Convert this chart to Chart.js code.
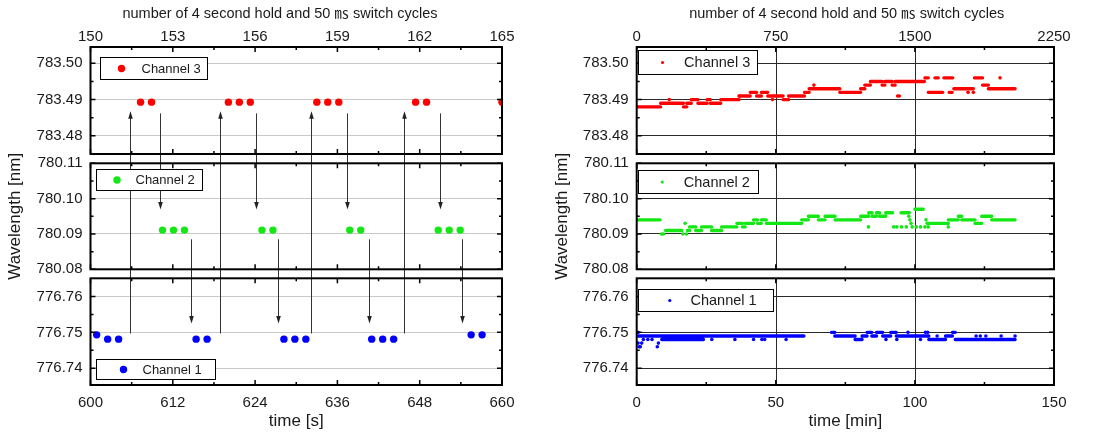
<!DOCTYPE html>
<html>
<head>
<meta charset="utf-8">
<script src="https://cdn.jsdelivr.net/npm/chart.js@4.4.1/dist/chart.umd.min.js"></script>
<style>
  html, body { margin: 0; padding: 0; background: #fff; }
  #wrap { position: relative; width: 1109px; height: 439px; overflow: hidden; }
  canvas { position: absolute; top: 0; }
  #left { left: 0; }
  #right { left: 550px; }
</style>
</head>
<body>
<div id="wrap">
  <canvas id="left" width="555" height="439"></canvas>
  <canvas id="right" width="559" height="439"></canvas>
</div>
<script>
// ---- axis ticks ----
const timeTicksS = [600, 612, 624, 636, 648, 660];
const cycleTicksLeft = [150, 153, 156, 159, 162, 165];
const timeTicksMin = [0, 50, 100, 150];
const cycleTicksRight = [0, 750, 1500, 2250];
const ch3Ticks = [783.48, 783.49, 783.50];
const ch2Ticks = [780.08, 780.09, 780.10, 780.11];
const ch1Ticks = [776.74, 776.75, 776.76];

// ---- left panel: 600..660 s ----
const ch3Time = [607.3, 608.9, 620.1, 621.7, 623.3, 633.0, 634.6, 636.2, 647.4, 649.0, 660.0];
const ch3Wave = [783.4893, 783.4893, 783.4893, 783.4893, 783.4893, 783.4893, 783.4893, 783.4893, 783.4893, 783.4893, 783.4893];
const ch2Time = [610.5, 612.1, 613.7, 625.0, 626.6, 637.8, 639.4, 650.7, 652.3, 653.9];
const ch2Wave = [780.0911, 780.0911, 780.0911, 780.0911, 780.0911, 780.0911, 780.0911, 780.0911, 780.0911, 780.0911];
const ch1Time = [600.9, 602.5, 604.1, 615.4, 617.0, 628.2, 629.8, 631.4, 641.0, 642.6, 644.2, 655.5, 657.1];
const ch1Wave = [776.7493, 776.7481, 776.7481, 776.7481, 776.7481, 776.7481, 776.7481, 776.7481, 776.7481, 776.7481, 776.7481, 776.7493, 776.7493];

// switching arrows: ch1 -> ch3 (up), ch3 -> ch2 (down), ch2 -> ch1 (down)
const upTime = [605.8, 618.9, 632.2, 645.7];
const up3From = 776.7497, up3To = 783.4868;
const down32Time = [610.2, 624.2, 637.4, 651.0];
const down32From = 783.4862, down32To = 780.0969;
const down21Time = [614.7, 627.4, 640.6, 654.1];
const down21From = 780.0885, down21To = 776.7525;

// ---- right panel: 0..150 min, runs [start, end, wavelength] + single points ----
const ch3Runs = [
  [0, 8.6, 783.488], [8.6, 16.8, 783.489], [16.8, 18.0, 783.488], [18.0, 19.6, 783.489],
  [19.6, 22.0, 783.490], [22.0, 25.3, 783.489], [25.3, 26.5, 783.490], [26.5, 30.2, 783.489],
  [30.2, 36.8, 783.490], [36.8, 40.8, 783.491], [40.8, 43.1, 783.492], [43.1, 44.8, 783.491],
  [44.8, 47.1, 783.492], [47.1, 52.6, 783.491], [52.6, 54.6, 783.490], [54.6, 60.3, 783.491],
  [60.3, 62.0, 783.492], [62.0, 73.0, 783.493], [73.0, 80.5, 783.492], [80.5, 82.0, 783.493],
  [82.0, 84.0, 783.494], [84.0, 88.2, 783.495], [88.2, 89.2, 783.494], [89.2, 91.8, 783.495],
  [91.8, 92.9, 783.494], [92.9, 103.4, 783.495], [103.6, 104.8, 783.496], [104.8, 110.0, 783.492],
  [107.2, 108.4, 783.496], [110.4, 113.6, 783.496], [112.3, 113.4, 783.492], [114.0, 121.0, 783.493],
  [121.4, 124.3, 783.496], [124.3, 126.4, 783.494], [126.4, 136.0, 783.493]
];
const ch3Dots = [
  [11.7, 783.490], [36.9, 783.491], [48.8, 783.490], [63.7, 783.494], [93.8, 783.491],
  [94.4, 783.491], [119.1, 783.492], [121.0, 783.492], [130.6, 783.496]
];
const ch2Runs = [
  [0, 8.4, 780.094], [10.4, 16.2, 780.091], [18.2, 19.0, 780.091], [19.0, 21.2, 780.092],
  [21.2, 23.3, 780.091], [23.3, 26.9, 780.092], [26.9, 30.5, 780.091], [30.5, 36.0, 780.092],
  [36.0, 38.0, 780.093], [38.0, 39.0, 780.092], [39.0, 42.0, 780.093], [42.0, 43.4, 780.094],
  [43.4, 44.8, 780.093], [44.8, 46.6, 780.094], [46.6, 59.3, 780.093], [59.3, 61.7, 780.094],
  [61.7, 65.3, 780.095], [65.3, 67.7, 780.094], [67.7, 71.3, 780.095], [71.3, 80.5, 780.094],
  [80.5, 83.4, 780.095], [83.4, 84.6, 780.096], [84.6, 86.2, 780.095], [86.2, 87.3, 780.096],
  [87.3, 89.5, 780.095], [89.5, 92.0, 780.096], [95.0, 98.0, 780.096], [100.0, 103.0, 780.097],
  [105.0, 112.0, 780.093], [112.0, 115.6, 780.094], [115.6, 116.8, 780.095], [116.8, 121.6, 780.094],
  [121.6, 124.0, 780.093], [124.0, 127.6, 780.095], [127.6, 136.0, 780.094]
];
const ch2Dots = [
  [8.9, 780.090], [9.6, 780.090], [16.6, 780.090], [17.4, 780.093], [17.9, 780.090],
  [83.3, 780.092], [92.4, 780.092], [93.5, 780.092], [95.2, 780.092], [96.9, 780.092],
  [97.8, 780.095], [98.2, 780.094], [98.6, 780.093], [99.0, 780.092], [100.5, 780.092],
  [102.0, 780.092], [103.6, 780.092], [104.0, 780.094], [104.4, 780.093], [104.8, 780.092],
  [112.0, 780.092]
];
const ch1Runs = [
  [0, 0.6, 776.750], [0.6, 60.1, 776.749], [9.0, 24.0, 776.748],
  [70.0, 71.2, 776.750], [71.2, 78.5, 776.749], [78.5, 81.0, 776.748], [81.0, 82.8, 776.749],
  [82.8, 84.5, 776.750], [84.5, 86.2, 776.749], [86.2, 88.4, 776.750], [88.4, 91.3, 776.749],
  [91.3, 93.3, 776.750], [93.3, 105.0, 776.749], [105.0, 111.0, 776.748], [111.0, 113.5, 776.749],
  [113.5, 114.5, 776.750], [114.5, 136.0, 776.748]
];
const ch1Dots = [
  [0.5, 776.747], [0.9, 776.746], [1.3, 776.746], [1.8, 776.747], [2.4, 776.748], [4.0, 776.748],
  [5.5, 776.748], [7.4, 776.746], [7.8, 776.747], [27.0, 776.748], [35.3, 776.748], [42.0, 776.748],
  [45.0, 776.748], [46.0, 776.748], [53.7, 776.748], [89.6, 776.748], [93.5, 776.748], [97.5, 776.750],
  [102.0, 776.748], [103.8, 776.750], [104.6, 776.750], [108.0, 776.749], [122.0, 776.749],
  [123.5, 776.749], [125.5, 776.749], [131.0, 776.749], [136.0, 776.749]
];

const RED = '#ff0000', GREEN = '#14e814', BLUE = '#0000ff';
const FONT = "'Liberation Sans', Arial, 'Noto Sans CJK JP', sans-serif";
Chart.defaults.font.family = FONT;
Chart.defaults.color = '#1a1a1a';

const pts = (xs, ys) => xs.map((x, i) => ({x, y: ys[i]}));
const runPts = runs => runs.flatMap(([a, b, v]) => [{x: a, y: v}, {x: b, y: v}, {x: b, y: null}]);
const dotPts = dots => dots.map(([x, y]) => ({x, y}));
const fixedTicks = list => s => { s.ticks = list.map(v => ({value: v})); };

function yBand(min, max, ticks, weight, gridColor, w, titlePad) {
  return {
    type: 'linear', position: 'left', stack: 'wl', stackWeight: weight, min, max,
    afterBuildTicks: fixedTicks(ticks),
    afterFit: s => { s.width = w; },
    grid: {color: gridColor, lineWidth: 1, drawTicks: false},
    border: {display: false},
    ticks: {font: {size: 15}, padding: 8, callback: v => v.toFixed(2)},
    title: titlePad != null
      ? {display: true, text: 'Wavelength [nm]', font: {size: 17}, padding: {top: titlePad, bottom: 0}}
      : {display: false}
  };
}
function yGap(weight, w) {
  return {
    type: 'linear', position: 'left', stack: 'wl', stackWeight: weight, min: 0, max: 1,
    afterFit: s => { s.width = w; },
    grid: {display: false}, border: {display: false}, ticks: {display: false}
  };
}
function xAxes(min, max, ticks, topMin, topMax, topTicks, title) {
  return {
    x: {
      type: 'linear', position: 'bottom', min, max,
      afterBuildTicks: fixedTicks(ticks), afterFit: s => { s.height = 54; },
      grid: {display: false, drawTicks: false}, border: {display: false},
      ticks: {font: {size: 15}, padding: 9, maxRotation: 0, autoSkip: false, callback: v => String(v)},
      title: {display: true, text: title, font: {size: 17}, padding: {top: 0, bottom: 7}}
    },
    xTop: {
      type: 'linear', position: 'top', min: topMin, max: topMax,
      afterBuildTicks: fixedTicks(topTicks), afterFit: s => { s.height = 47; },
      grid: {display: false, drawTicks: false}, border: {display: false},
      ticks: {font: {size: 15}, padding: 1, maxRotation: 0, autoSkip: false, callback: v => String(v)}
    }
  };
}

function mids(list) {
  const out = [];
  for (let i = 0; i < list.length - 1; i++) out.push((list[i] + list[i + 1]) / 2);
  return out;
}

function drawArrow(ctx, x, y0, y1) {
  const dir = Math.sign(y1 - y0);
  ctx.beginPath(); ctx.moveTo(x, y0); ctx.lineTo(x, y1 - dir * 5); ctx.stroke();
  ctx.beginPath(); ctx.moveTo(x, y1); ctx.lineTo(x - 2.3, y1 - dir * 7.5); ctx.lineTo(x + 2.3, y1 - dir * 7.5);
  ctx.closePath(); ctx.fill();
}

// frames, inward ticks, per-band vertical grid, arrows, legends, top title
function bandPlugin(cfg) {
  return {
    id: 'bands',
    beforeDatasetsDraw(chart) {
      const {ctx} = chart, xs = chart.scales.x;
      ctx.save();
      ctx.strokeStyle = cfg.gridColor; ctx.lineWidth = 1;
      cfg.vGrid.forEach(v => {
        const px = Math.round(xs.getPixelForValue(v)) + 0.5;
        cfg.bands.forEach(b => {
          const s = chart.scales[b.id];
          ctx.beginPath(); ctx.moveTo(px, s.top); ctx.lineTo(px, s.bottom); ctx.stroke();
        });
      });
      ctx.restore();
    },
    afterDatasetsDraw(chart) {
      const {ctx, chartArea} = chart, xs = chart.scales.x;
      ctx.save();
      if (cfg.arrows) {
        ctx.strokeStyle = '#333'; ctx.fillStyle = '#222'; ctx.lineWidth = 1;
        cfg.arrows.forEach(a => {
          const sFrom = chart.scales[a.from], sTo = chart.scales[a.to];
          a.xs.forEach(t => {
            const px = Math.round(xs.getPixelForValue(t)) + 0.5;
            drawArrow(ctx, px, sFrom.getPixelForValue(a.v0), sTo.getPixelForValue(a.v1));
          });
        });
      }
      const xMaj = cfg.xTicks, xMin = mids(cfg.xTicks);
      ctx.strokeStyle = '#000';
      cfg.bands.forEach(b => {
        const s = chart.scales[b.id];
        const L = chartArea.left, R = chartArea.right, T = s.top, B = s.bottom;
        ctx.lineWidth = 1.5;
        const tick = (list, len) => {
          list.forEach(v => {
            const px = xs.getPixelForValue(v);
            ctx.beginPath(); ctx.moveTo(px, T); ctx.lineTo(px, T + len);
            ctx.moveTo(px, B); ctx.lineTo(px, B - len); ctx.stroke();
          });
        };
        tick(xMaj, 5); tick(xMin, 3);
        const ytick = (list, len) => {
          list.forEach(v => {
            const py = s.getPixelForValue(v);
            ctx.beginPath(); ctx.moveTo(L, py); ctx.lineTo(L + len, py);
            ctx.moveTo(R, py); ctx.lineTo(R - len, py); ctx.stroke();
          });
        };
        ytick(b.ticks, 5); ytick(mids(b.ticks), 3);
        ctx.lineWidth = 2;
        ctx.strokeRect(L, T, R - L, B - T);
      });
      ctx.restore();
    },
    afterDraw(chart) {
      const {ctx, chartArea} = chart;
      ctx.save();
      cfg.legends.forEach(g => {
        const s = chart.scales[g.id];
        const x = Math.round(chartArea.left + g.dx) + 0.5, y = Math.round(s.top + g.dy) + 0.5;
        ctx.fillStyle = '#fff'; ctx.fillRect(x, y, g.w, g.h);
        ctx.strokeStyle = '#000'; ctx.lineWidth = 1; ctx.strokeRect(x, y, g.w, g.h);
        ctx.fillStyle = g.color;
        ctx.beginPath(); ctx.arc(x + g.dot, y + g.h / 2, g.r, 0, Math.PI * 2); ctx.fill();
        ctx.fillStyle = '#1a1a1a'; ctx.font = g.size + 'px ' + FONT;
        ctx.textBaseline = 'middle'; ctx.textAlign = 'left';
        ctx.fillText(g.text, x + g.text_dx, y + g.h / 2 + 0.5);
      });
      ctx.fillStyle = '#1a1a1a'; ctx.font = '14.5px ' + FONT;
      ctx.textAlign = 'center'; ctx.textBaseline = 'middle';
      ctx.fillText('number of 4 second hold and 50 \u33B3 switch cycles', cfg.titleX, 13.5);
      ctx.restore();
    }
  };
}

// ---------- left chart ----------
const bands = [
  {id: 'y3', ticks: ch3Ticks}, {id: 'y2', ticks: ch2Ticks}, {id: 'y1', ticks: ch1Ticks}
];
new Chart(document.getElementById('left'), {
  type: 'scatter',
  data: {
    datasets: [
      {label: 'Channel 3', data: pts(ch3Time, ch3Wave), yAxisID: 'y3', xAxisID: 'x', pointRadius: 3.7, pointBackgroundColor: RED, pointBorderWidth: 0},
      {label: 'Channel 2', data: pts(ch2Time, ch2Wave), yAxisID: 'y2', xAxisID: 'x', pointRadius: 3.7, pointBackgroundColor: GREEN, pointBorderWidth: 0},
      {label: 'Channel 1', data: pts(ch1Time, ch1Wave), yAxisID: 'y1', xAxisID: 'x', pointRadius: 3.7, pointBackgroundColor: BLUE, pointBorderWidth: 0}
    ]
  },
  options: {
    responsive: false, animation: false, events: [], devicePixelRatio: 1,
    layout: {padding: {left: 0, right: 53, top: 0, bottom: 0}},
    plugins: {legend: {display: false}, tooltip: {enabled: false}},
    scales: Object.assign(xAxes(600, 660, timeTicksS, 150, 165, cycleTicksLeft, 'time [s]'), {
      y1: yBand(776.7353, 776.7651, ch1Ticks, 106.7, '#c8c8c8', 90.5),
      gapB: yGap(9, 90.5),
      y2: yBand(780.08, 780.11, ch2Ticks, 106, '#c8c8c8', 90.5, 4.8),
      gapA: yGap(9.3, 90.5),
      y3: yBand(783.475, 783.5045, ch3Ticks, 107, '#c8c8c8', 90.5)
    })
  },
  plugins: [bandPlugin({
    bands, xTicks: timeTicksS, vGrid: [], gridColor: '#c8c8c8', titleX: 280,
    arrows: [
      {xs: upTime, from: 'y1', v0: up3From, to: 'y3', v1: up3To},
      {xs: down32Time, from: 'y3', v0: down32From, to: 'y2', v1: down32To},
      {xs: down21Time, from: 'y2', v0: down21From, to: 'y1', v1: down21To}
    ],
    legends: [
      {id: 'y3', dx: 9.5, dy: 10, w: 107, h: 22, dot: 21, text_dx: 41, r: 3.7, size: 13, color: RED, text: 'Channel 3'},
      {id: 'y2', dx: 5.5, dy: 5.7, w: 106, h: 21, dot: 20.5, text_dx: 39, r: 3.7, size: 13, color: GREEN, text: 'Channel 2'},
      {id: 'y1', dx: 5.5, dy: 80.7, w: 119, h: 20, dot: 27, text_dx: 46, r: 3.7, size: 13, color: BLUE, text: 'Channel 1'}
    ]
  })]
});

// ---------- right chart ----------
const runSet = (runs, color, y) => ({data: runPts(runs), yAxisID: y, xAxisID: 'x', showLine: true, spanGaps: false,
  pointRadius: 0, borderColor: color, borderWidth: 3.4, borderCapStyle: 'round'});
const dotSet = (dots, color, y) => ({data: dotPts(dots), yAxisID: y, xAxisID: 'x', showLine: false,
  pointRadius: 1.8, pointBackgroundColor: color, pointBorderWidth: 0});

new Chart(document.getElementById('right'), {
  type: 'scatter',
  data: {
    datasets: [
      runSet(ch3Runs, RED, 'y3'), dotSet(ch3Dots, RED, 'y3'),
      runSet(ch2Runs, GREEN, 'y2'), dotSet(ch2Dots, GREEN, 'y2'),
      runSet(ch1Runs, BLUE, 'y1'), dotSet(ch1Dots, BLUE, 'y1')
    ]
  },
  options: {
    responsive: false, animation: false, events: [], devicePixelRatio: 1,
    layout: {padding: {left: 0, right: 55, top: 0, bottom: 0}},
    plugins: {legend: {display: false}, tooltip: {enabled: false}},
    scales: Object.assign(xAxes(0, 150, timeTicksMin, 0, 2250, cycleTicksRight, 'time [min]'), {
      y1: yBand(776.7353, 776.7651, ch1Ticks, 106.7, '#2a2a2a', 86.7),
      gapB: yGap(9, 86.7),
      y2: yBand(780.08, 780.11, ch2Ticks, 106, '#2a2a2a', 86.7, 1.8),
      gapA: yGap(9.3, 86.7),
      y3: yBand(783.475, 783.5045, ch3Ticks, 107, '#2a2a2a', 86.7)
    })
  },
  plugins: [bandPlugin({
    bands, xTicks: timeTicksMin, vGrid: [50, 100], gridColor: '#2a2a2a', titleX: 296.7,
    legends: [
      {id: 'y3', dx: 1, dy: 3.3, w: 119, h: 24, dot: 24, text_dx: 45.6, r: 1.6, size: 14.5, color: RED, text: 'Channel 3'},
      {id: 'y2', dx: 1.3, dy: 6.7, w: 120, h: 23, dot: 23.7, text_dx: 45.3, r: 1.6, size: 14.5, color: GREEN, text: 'Channel 2'},
      {id: 'y1', dx: 1.3, dy: 10.7, w: 135, h: 22, dot: 31.3, text_dx: 52, r: 1.6, size: 14.5, color: BLUE, text: 'Channel 1'}
    ]
  })]
});
</script>
</body>
</html>
